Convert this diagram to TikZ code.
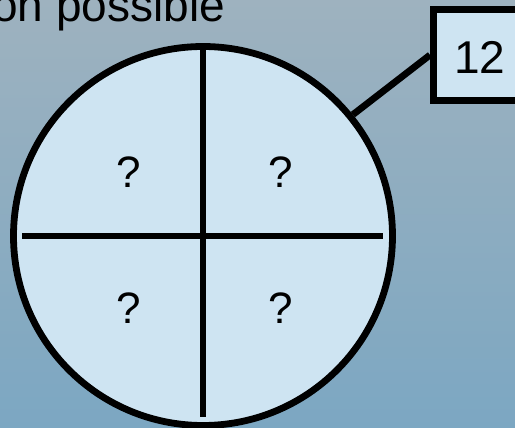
\documentclass[tikz,border=0pt]{standalone}
\usepackage{fontspec}
\setmainfont{Liberation Sans}
\definecolor{bgtop}{RGB}{158,178,191}
\definecolor{bgbot}{RGB}{124,167,194}
\definecolor{cellfill}{RGB}{206,228,242}
\begin{document}
\begin{tikzpicture}[x=1pt,y=-1pt,
  thick line/.style={line width=6.8pt,black},
  qmark/.style={font=\fontsize{44}{50}\selectfont,inner sep=0pt},
  numbox/.style={draw=black,line width=6.8pt,fill=cellfill,minimum width=130pt,minimum height=91pt,inner sep=0pt,anchor=west}]
\useasboundingbox (0,0) rectangle (515,428);
\shade[top color=bgtop,bottom color=bgbot] (0,0) rectangle (515,428);
% title fragment
\node[anchor=base west,inner sep=0pt,font=\fontsize{46}{54}\selectfont] (title) at (-8,22) {on possible};
% circle
\coordinate (c) at (203,236);
\node[circle,draw=black,line width=6.8pt,fill=cellfill,minimum size=379pt,inner sep=0pt] (disk) at (c) {};
\draw[thick line] (203,50) -- (203,417);
\draw[thick line] (22,236) -- (383,236);
\node[qmark] (q1) at (129,172) {?};
\node[qmark] (q2) at (281,172) {?};
\node[qmark] (q3) at (129,308) {?};
\node[qmark] (q4) at (281,308) {?};
% number box
\node[numbox] (box) at (430,55) {};
\node[font=\fontsize{46}{54}\selectfont,inner sep=0pt] (num) at (480,57) {12};
\draw[thick line] (disk.39) -- (box.west);
\end{tikzpicture}
\end{document}
